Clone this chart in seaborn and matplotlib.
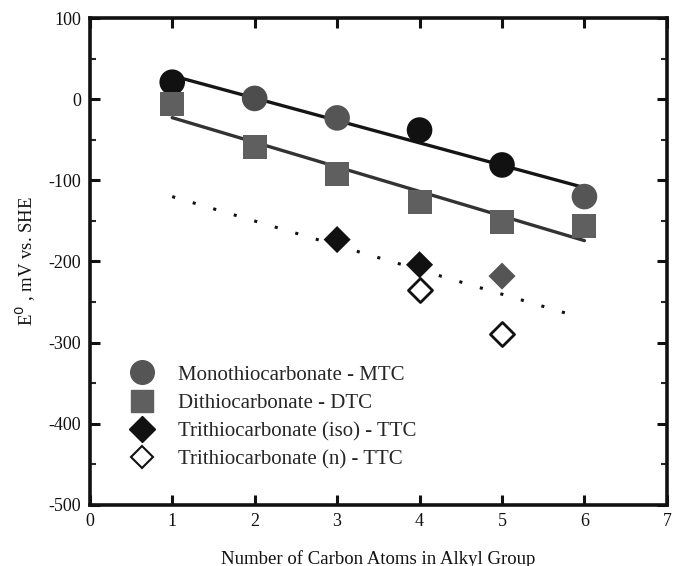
import matplotlib
matplotlib.use("Agg")
import matplotlib.pyplot as plt
from matplotlib.lines import Line2D
from matplotlib.ticker import MultipleLocator
import seaborn as sns
import pandas as pd

# Standard potentials vs. alkyl chain length
mtc_x = [1, 2, 3, 4, 5, 6]
mtc_y = [21, 1, -23, -38, -81, -120]
dtc_x = [1, 2, 3, 4, 5, 6]
dtc_y = [-6, -59, -92, -127, -151, -156]
ttc_iso_x = [3, 4, 5]
ttc_iso_y = [-173, -204, -218]
ttc_n_x = [4, 5]
ttc_n_y = [-235, -289]
trend_x = [1, 5.92]
trend_y = [-120, -268]

labels = ["Monothiocarbonate - MTC", "Dithiocarbonate - DTC",
          "Trithiocarbonate (iso) - TTC", "Trithiocarbonate (n) - TTC"]

# scanned-print shading of individual symbols
mtc_shade = ["#111111", "#4d4d4d", "#555555", "#111111", "#111111", "#555555"]
ttc_iso_shade = ["#111111", "#111111", "#555555"]

sns.set_theme(style="ticks")
plt.rcParams["font.family"] = ["Liberation Serif", "DejaVu Serif"]
plt.rcParams["axes.unicode_minus"] = False

fig = plt.figure(figsize=(6.75, 5.66), dpi=100)
ax = fig.add_axes([0.133, 0.108, 0.855, 0.860])

# least-squares fits
sns.regplot(x=mtc_x, y=mtc_y, scatter=False, ci=None, truncate=True, ax=ax,
            line_kws=dict(color="#151515", lw=2.4, zorder=2))
sns.regplot(x=dtc_x, y=dtc_y, scatter=False, ci=None, truncate=True, ax=ax,
            line_kws=dict(color="#333333", lw=2.4, zorder=2))
# trithiocarbonate trend
sns.lineplot(x=trend_x, y=trend_y, ax=ax, color="#111111", lw=2.2,
             linestyle=(0, (1.0, 6.0)), zorder=2)

def points(xs, ys, shades, marker, size, **kw):
    df = pd.DataFrame({"x": xs, "y": ys, "c": shades})
    sns.scatterplot(data=df, x="x", y="y", hue="c",
                    palette={c: c for c in set(shades)}, marker=marker,
                    s=size, legend=False, ax=ax, zorder=3, **kw)

points(mtc_x, mtc_y, mtc_shade, "o", 340, edgecolor="none")
points(dtc_x, dtc_y, ["#5f5f5f"] * len(dtc_x), "s", 300, edgecolor="none")
points(ttc_iso_x, ttc_iso_y, ttc_iso_shade, "D", 190, edgecolor="none")
ax.scatter(ttc_n_x, ttc_n_y, marker="D", s=150, facecolor="white",
           edgecolor="#111111", linewidth=2, zorder=3)

ax.set_xlim(0, 7)
ax.set_ylim(-500, 100)
ax.xaxis.set_major_locator(MultipleLocator(1))
ax.yaxis.set_major_locator(MultipleLocator(100))
ax.yaxis.set_minor_locator(MultipleLocator(50))
ax.tick_params(axis="both", which="major", direction="in", length=7, width=2.2,
               top=True, right=True, labelsize=13, colors="#111111", pad=6)
ax.tick_params(axis="y", which="minor", direction="in", length=4, width=1.5,
               right=True)
for s in ax.spines.values():
    s.set_linewidth(2.6)
    s.set_color("#111111")

ax.set_xlabel("Number of Carbon Atoms in Alkyl Group", fontsize=13.5,
              labelpad=14, color="#111111")
ax.set_ylabel(r"E$^0$ , mV vs. SHE", fontsize=13.5, labelpad=8, color="#111111")

handles = [
    Line2D([], [], marker="o", color="#555555", ls="none", markersize=17),
    Line2D([], [], marker="s", color="#5f5f5f", ls="none", markersize=16),
    Line2D([], [], marker="D", color="#111111", ls="none", markersize=13),
    Line2D([], [], marker="D", markerfacecolor="white", markeredgecolor="#111111",
           markeredgewidth=1.5, ls="none", markersize=11),
]
ax.legend(handles, labels, loc="lower left", bbox_to_anchor=(0.055, 0.055),
          frameon=False, fontsize=15, handletextpad=1.1, labelspacing=0.42,
          handlelength=1.2, borderaxespad=0)

fig.savefig("out.png", dpi=100)
